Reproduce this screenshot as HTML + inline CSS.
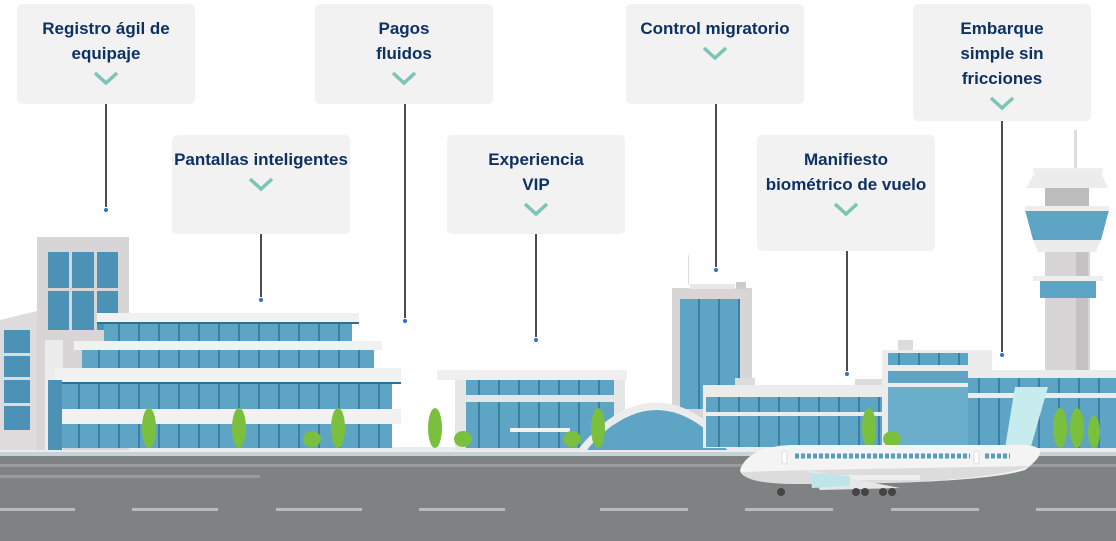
<!DOCTYPE html>
<html><head><meta charset="utf-8"><style>
html,body{margin:0;padding:0;background:#fff;}
body{width:1116px;height:541px;overflow:hidden;position:relative;font-family:"Liberation Sans",sans-serif;}
svg.scene{position:absolute;left:0;top:0;}
.b{position:absolute;background:#f2f2f2;border-radius:5px;width:178px;text-align:center;color:#0d3162;font-weight:bold;font-size:17px;line-height:25px;padding-top:12px;box-sizing:border-box;}
.c{display:block;position:static;margin:4px auto 0;}
</style></head><body>
<svg class="scene" width="1116" height="541" viewBox="0 0 1116 541">
<defs><pattern id="gl" width="20" height="18" patternUnits="userSpaceOnUse"><rect width="20" height="18" fill="#5ea5c5"/><rect x="18" width="2" height="18" fill="#3b7fa3"/></pattern></defs>
<rect x="0" y="447" width="1116" height="8" fill="#e8eef0"/>
<rect x="0" y="452" width="1116" height="4" fill="#c8d3d6"/>
<rect x="0" y="456" width="1116" height="85" fill="#7f8282"/>
<rect x="0" y="464" width="1116" height="3" fill="#9a9c9c"/>
<rect x="0" y="475" width="260" height="3" fill="#9a9c9c"/>
<g fill="#b9baba"><rect x="0" y="508" width="75" height="3"/><rect x="132" y="508" width="86" height="3"/><rect x="276" y="508" width="86" height="3"/><rect x="419" y="508" width="86" height="3"/><rect x="600" y="508" width="88" height="3"/><rect x="745" y="508" width="88" height="3"/><rect x="891" y="508" width="88" height="3"/><rect x="1036" y="508" width="80" height="3"/></g>
<rect x="37" y="237" width="92" height="213" fill="#d8d5d6"/>
<rect x="48" y="252" width="70" height="78" fill="#4b92b6"/>
<g fill="#d8d5d6"><rect x="69" y="252" width="3" height="78"/><rect x="94" y="252" width="3" height="78"/><rect x="48" y="288" width="70" height="3"/></g>
<polygon points="0,320 37,311 37,450 0,450" fill="#dedbdc"/>
<rect x="4" y="330" width="26" height="100" fill="#4b92b6"/>
<g fill="#dedbdc"><rect x="4" y="353" width="26" height="3"/><rect x="4" y="377" width="26" height="3"/><rect x="4" y="403" width="26" height="3"/></g>
<rect x="45" y="340" width="18" height="110" fill="#ececec"/>
<rect x="104" y="323" width="248" height="18" fill="url(#gl)"/>
<rect x="82" y="350" width="292" height="18" fill="url(#gl)"/>
<rect x="62" y="383" width="330" height="27" fill="url(#gl)"/>
<rect x="62" y="424" width="330" height="24" fill="url(#gl)"/>
<rect x="97" y="313" width="262" height="10" fill="#f1f1f1"/><rect x="97" y="322" width="262" height="2" fill="#2f6f92"/>
<rect x="74" y="341" width="308" height="9" fill="#f1f1f1"/>
<rect x="55" y="368" width="346" height="15" fill="#f1f1f1"/><rect x="55" y="382" width="346" height="2" fill="#2f6f92"/>
<rect x="55" y="409" width="346" height="15" fill="#f1f1f1"/>
<rect x="48" y="380" width="14" height="70" fill="#4b92b6"/>
<rect x="455" y="370" width="170" height="80" fill="#e6e6e6"/>
<rect x="437" y="370" width="190" height="10" fill="#efefef"/>
<rect x="466" y="380" width="148" height="68" fill="url(#gl)"/>
<rect x="466" y="395" width="148" height="7" fill="#e6e6e6"/>
<rect x="510" y="428" width="60" height="4" fill="#f1f1f1"/>
<rect x="672" y="288" width="80" height="160" fill="#d8d5d6"/>
<rect x="680" y="299" width="60" height="110" fill="url(#gl)"/>
<rect x="690" y="284" width="45" height="5" fill="#e8e8e8"/><rect x="736" y="282" width="10" height="7" fill="#ccc"/>
<rect x="688" y="255" width="1" height="30" fill="#ddd"/>
<path d="M587,450 Q655,370 728,450 Z" fill="#5ea5c5"/>
<path d="M582,450 Q655,362 732,450" fill="none" stroke="#ececec" stroke-width="7"/>
<rect x="703" y="385" width="265" height="63" fill="#ececec"/>
<rect x="706" y="397" width="262" height="50" fill="url(#gl)"/>
<rect x="706" y="412" width="262" height="4" fill="#ececec"/>
<rect x="735" y="378" width="20" height="7" fill="#dcdcdc"/><rect x="855" y="379" width="40" height="6" fill="#dcdcdc"/>
<rect x="882" y="350" width="110" height="98" fill="#ececec"/>
<rect x="888" y="353" width="80" height="12" fill="url(#gl)"/>
<rect x="888" y="371" width="80" height="12" fill="#5ea5c5"/>
<rect x="888" y="387" width="80" height="60" fill="#6aaecb"/>
<rect x="898" y="340" width="15" height="10" fill="#dcdcdc"/>
<rect x="968" y="370" width="148" height="78" fill="#ececec"/>
<rect x="968" y="378" width="148" height="70" fill="url(#gl)"/>
<rect x="968" y="393" width="148" height="5" fill="#ececec"/>
<rect x="1074" y="130" width="3" height="40" fill="#ddd"/>
<rect x="1033" y="168" width="70" height="5" fill="#eee"/>
<polygon points="1035,173 1101,173 1108,188 1026,188" fill="#ececec"/>
<rect x="1045" y="188" width="44" height="18" fill="#bcbcbc"/>
<polygon points="1025,210 1109,210 1101,240 1033,240" fill="#5ea5c5"/>
<rect x="1025" y="206" width="84" height="5" fill="#eee"/>
<polygon points="1033,240 1101,240 1096,252 1038,252" fill="#ececec"/>
<rect x="1045" y="252" width="45" height="118" fill="#d8d5d6"/>
<rect x="1076" y="252" width="12" height="118" fill="#c5c2c3"/>
<rect x="1033" y="276" width="70" height="5" fill="#eee"/>
<rect x="1040" y="281" width="56" height="17" fill="#5ea5c5"/>
<g fill="#7bbf3f">
<ellipse cx="149" cy="428" rx="7" ry="20"/><ellipse cx="239" cy="428" rx="7" ry="20"/><ellipse cx="338" cy="428" rx="7" ry="20"/><ellipse cx="435" cy="428" rx="7" ry="20"/>
<ellipse cx="312" cy="439" rx="9" ry="8"/><ellipse cx="463" cy="439" rx="9" ry="8"/><ellipse cx="572" cy="439" rx="9" ry="8"/><ellipse cx="892" cy="439" rx="9" ry="8"/>
<ellipse cx="598" cy="428" rx="7" ry="20"/><ellipse cx="869" cy="428" rx="7" ry="20"/>
<ellipse cx="1060" cy="428" rx="7" ry="20"/><ellipse cx="1077" cy="428" rx="7" ry="20"/><ellipse cx="1094" cy="432" rx="6" ry="16"/>
</g>
<polygon points="1005,448 1015,387 1048,387 1030,450" fill="#c8ecee"/>
<path d="M740,470 Q748,447 790,445 L1025,445 Q1055,447 1025,470 Q980,484 800,484 Q742,484 740,470 Z" fill="#f4f4f4"/>
<path d="M742,472 Q800,470 1030,466 Q985,484 800,484 Q745,484 742,472 Z" fill="#dcdcdc"/>
<rect x="825" y="475" width="95" height="5" fill="#eee"/>
<path d="M808,470 L900,488 L820,490 Z" fill="#e6e6e6"/>
<path d="M810,473 L850,476 L850,486 L812,488 Z" fill="#bfe4ea"/>
<rect x="782" y="451" width="5" height="13" rx="2" fill="#fff" stroke="#ddd"/>
<rect x="974" y="451" width="5" height="13" rx="2" fill="#fff" stroke="#ddd"/>
<line x1="795" y1="456" x2="970" y2="456" stroke="#5a9cbc" stroke-width="5" stroke-dasharray="4,2"/>
<line x1="985" y1="456" x2="1010" y2="456" stroke="#5a9cbc" stroke-width="5" stroke-dasharray="4,2"/>
<g fill="#444"><circle cx="781" cy="492" r="4"/><circle cx="856" cy="492" r="4"/><circle cx="865" cy="492" r="4"/><circle cx="883" cy="492" r="4"/><circle cx="892" cy="492" r="4"/></g>
<g stroke="#111" stroke-width="1.5">
<line x1="106" y1="104" x2="106" y2="207"/><line x1="261" y1="234" x2="261" y2="297"/><line x1="405" y1="104" x2="405" y2="318"/><line x1="536" y1="234" x2="536" y2="337"/><line x1="716" y1="104" x2="716" y2="267"/><line x1="847" y1="251" x2="847" y2="371"/><line x1="1002" y1="121" x2="1002" y2="352"/>
</g>
<g fill="#2f6fd0"><circle cx="106" cy="210" r="2"/><circle cx="261" cy="300" r="2"/><circle cx="405" cy="321" r="2"/><circle cx="536" cy="340" r="2"/><circle cx="716" cy="270" r="2"/><circle cx="847" cy="374" r="2"/><circle cx="1002" cy="355" r="2"/></g>
</svg>
<div class="b" style="left:17px;top:4px;height:100px">Registro ágil de<br>equipaje<svg class="c" width="26" height="16"><polyline points="2,3 13,13 24,3" fill="none" stroke="#7cc4b6" stroke-width="3.5"/></svg></div>
<div class="b" style="left:172px;top:135px;height:99px">Pantallas inteligentes<svg class="c" width="26" height="16"><polyline points="2,3 13,13 24,3" fill="none" stroke="#7cc4b6" stroke-width="3.5"/></svg></div>
<div class="b" style="left:315px;top:4px;height:100px">Pagos<br>fluidos<svg class="c" width="26" height="16"><polyline points="2,3 13,13 24,3" fill="none" stroke="#7cc4b6" stroke-width="3.5"/></svg></div>
<div class="b" style="left:447px;top:135px;height:99px">Experiencia<br>VIP<svg class="c" width="26" height="16"><polyline points="2,3 13,13 24,3" fill="none" stroke="#7cc4b6" stroke-width="3.5"/></svg></div>
<div class="b" style="left:626px;top:4px;height:100px">Control migratorio<svg class="c" width="26" height="16"><polyline points="2,3 13,13 24,3" fill="none" stroke="#7cc4b6" stroke-width="3.5"/></svg></div>
<div class="b" style="left:757px;top:135px;height:116px">Manifiesto<br>biométrico de vuelo<svg class="c" width="26" height="16"><polyline points="2,3 13,13 24,3" fill="none" stroke="#7cc4b6" stroke-width="3.5"/></svg></div>
<div class="b" style="left:913px;top:4px;height:117px">Embarque<br>simple sin<br>fricciones<svg class="c" width="26" height="16"><polyline points="2,3 13,13 24,3" fill="none" stroke="#7cc4b6" stroke-width="3.5"/></svg></div>
</body></html>
